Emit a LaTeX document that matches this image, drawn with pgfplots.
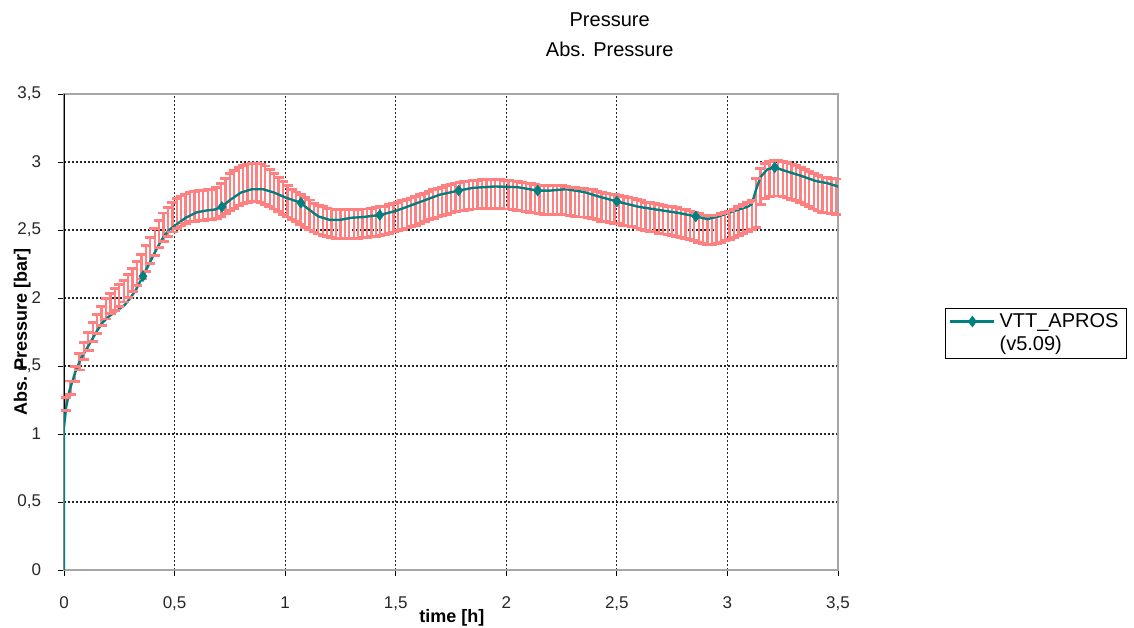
\documentclass[border=0pt]{standalone}
\usepackage{fontspec}
\setmainfont{Liberation Sans}
\usepackage{pgfplots}
\usepackage{pgfplotstable}
\pgfplotsset{compat=1.18}
\definecolor{tealc}{RGB}{0,128,128}
\definecolor{pinkc}{RGB}{255,128,128}

\pgfplotstableread{
x y e
0.01 1.22 0.05
0.03 1.34 0.05
0.05 1.44 0.055
0.07 1.53 0.06
0.09 1.61 0.065
0.11 1.68 0.065
0.13 1.75 0.07
0.15 1.81 0.07
0.17 1.87 0.07
0.19 1.92 0.075
0.21 1.96 0.075
0.23 1.99 0.08
0.25 2.02 0.08
0.27 2.05 0.08
0.29 2.09 0.085
0.31 2.13 0.085
0.33 2.18 0.09
0.35 2.23 0.09
0.37 2.29 0.095
0.39 2.35 0.095
0.41 2.41 0.10
0.43 2.47 0.10
0.45 2.52 0.105
0.47 2.56 0.105
0.49 2.595 0.11
0.51 2.62 0.11
0.53 2.64 0.11
0.55 2.655 0.11
0.57 2.67 0.11
0.59 2.675 0.11
0.61 2.68 0.11
0.63 2.68 0.11
0.65 2.685 0.11
0.67 2.69 0.11
0.69 2.70 0.115
0.71 2.72 0.12
0.73 2.75 0.13
0.75 2.78 0.135
0.77 2.80 0.14
0.79 2.82 0.14
0.81 2.835 0.14
0.83 2.845 0.14
0.85 2.85 0.14
0.87 2.85 0.14
0.89 2.845 0.14
0.91 2.83 0.14
0.93 2.81 0.135
0.95 2.785 0.13
0.97 2.76 0.125
0.99 2.735 0.12
1.01 2.71 0.115
1.03 2.69 0.11
1.05 2.67 0.11
1.07 2.65 0.11
1.09 2.63 0.11
1.11 2.61 0.11
1.13 2.59 0.105
1.15 2.575 0.105
1.17 2.565 0.105
1.19 2.555 0.105
1.21 2.55 0.105
1.23 2.545 0.105
1.25 2.545 0.105
1.27 2.545 0.105
1.29 2.545 0.105
1.31 2.545 0.105
1.33 2.545 0.105
1.35 2.55 0.105
1.37 2.55 0.105
1.39 2.555 0.105
1.41 2.56 0.105
1.43 2.565 0.105
1.45 2.57 0.105
1.47 2.58 0.105
1.49 2.59 0.105
1.51 2.60 0.105
1.53 2.61 0.105
1.55 2.62 0.105
1.57 2.63 0.105
1.59 2.64 0.105
1.61 2.655 0.105
1.63 2.665 0.105
1.65 2.68 0.105
1.67 2.69 0.105
1.69 2.70 0.105
1.71 2.71 0.105
1.73 2.72 0.105
1.75 2.73 0.105
1.77 2.74 0.105
1.79 2.745 0.105
1.81 2.75 0.105
1.83 2.755 0.105
1.85 2.76 0.105
1.87 2.76 0.105
1.89 2.765 0.105
1.91 2.765 0.105
1.93 2.765 0.105
1.95 2.765 0.105
1.97 2.765 0.105
1.99 2.76 0.105
2.01 2.76 0.105
2.03 2.755 0.105
2.05 2.75 0.105
2.07 2.745 0.105
2.09 2.74 0.105
2.11 2.735 0.105
2.13 2.73 0.105
2.15 2.725 0.105
2.17 2.72 0.105
2.19 2.72 0.105
2.21 2.72 0.105
2.23 2.72 0.105
2.25 2.72 0.105
2.27 2.715 0.105
2.29 2.71 0.105
2.31 2.705 0.105
2.33 2.70 0.105
2.35 2.70 0.105
2.37 2.695 0.105
2.39 2.69 0.105
2.41 2.68 0.105
2.43 2.67 0.105
2.45 2.665 0.105
2.47 2.66 0.105
2.49 2.655 0.105
2.51 2.65 0.105
2.53 2.64 0.105
2.55 2.635 0.105
2.57 2.63 0.105
2.59 2.62 0.105
2.61 2.61 0.105
2.63 2.60 0.105
2.65 2.595 0.105
2.67 2.59 0.105
2.69 2.58 0.105
2.71 2.575 0.105
2.73 2.57 0.105
2.75 2.565 0.105
2.77 2.56 0.105
2.79 2.55 0.105
2.81 2.545 0.105
2.83 2.535 0.105
2.85 2.525 0.105
2.87 2.515 0.105
2.89 2.505 0.105
2.91 2.50 0.105
2.93 2.50 0.105
2.95 2.505 0.105
2.97 2.515 0.105
2.99 2.525 0.105
3.01 2.535 0.105
3.03 2.55 0.105
3.05 2.565 0.105
3.07 2.58 0.105
3.09 2.595 0.105
3.11 2.61 0.105
3.13 2.70 0.18
3.15 2.82 0.13
3.17 2.86 0.13
3.19 2.875 0.13
3.21 2.88 0.13
3.23 2.88 0.13
3.25 2.875 0.13
3.27 2.865 0.13
3.29 2.855 0.13
3.31 2.845 0.13
3.33 2.83 0.13
3.35 2.815 0.13
3.37 2.80 0.13
3.39 2.785 0.13
3.41 2.77 0.13
3.43 2.76 0.13
3.45 2.755 0.13
3.47 2.75 0.13
3.49 2.745 0.13
}\expdata

\pgfplotstableread{
x y
0 0
0 1.05
0.01 1.2
0.025 1.32
0.05 1.45
0.075 1.55
0.1 1.62
0.125 1.69
0.15 1.76
0.175 1.82
0.2 1.86
0.225 1.89
0.25 1.92
0.275 1.95
0.3 2.0
0.325 2.06
0.357 2.16
0.4 2.30
0.425 2.38
0.45 2.45
0.475 2.50
0.5 2.53
0.55 2.59
0.6 2.63
0.65 2.645
0.68 2.65
0.714 2.67
0.75 2.72
0.8 2.775
0.85 2.80
0.9 2.80
0.95 2.775
1.0 2.74
1.071 2.70
1.1 2.66
1.15 2.60
1.2 2.575
1.25 2.575
1.3 2.59
1.35 2.595
1.428 2.61
1.5 2.64
1.6 2.70
1.7 2.76
1.785 2.79
1.85 2.81
1.95 2.82
2.05 2.815
2.142 2.79
2.2 2.79
2.27 2.80
2.35 2.78
2.42 2.745
2.5 2.71
2.6 2.67
2.7 2.645
2.78 2.625
2.857 2.60
2.91 2.58
2.96 2.60
3.03 2.64
3.09 2.67
3.11 2.69
3.13 2.80
3.15 2.89
3.18 2.945
3.214 2.96
3.27 2.93
3.33 2.90
3.40 2.86
3.45 2.845
3.5 2.82
}\aprosline

\pgfplotstableread{
x y
0.357 2.16
0.714 2.67
1.071 2.70
1.428 2.61
1.785 2.79
2.142 2.79
2.5 2.71
2.857 2.60
3.214 2.96
}\aprosmarks

\begin{document}
\begin{tikzpicture}
\begin{axis}[
  at={(0,0)}, anchor=south west,
  scale only axis, width=387bp, height=238bp,
  xmin=0, xmax=3.5, ymin=0, ymax=3.5,
  xtick={0,0.5,1,1.5,2,2.5,3,3.5},
  ytick={0,0.5,1,1.5,2,2.5,3,3.5},
  tick pos=left,
  /pgf/number format/use comma,
  /pgf/number format/assume math mode=true,
  tick label style={font=\fontsize{8.5bp}{10bp}\selectfont, black!85},
  xticklabel shift=7bp,
  yticklabel shift=5bp,
  tick align=outside,
  major tick length=3bp,
  tick style={black, line width=0.4bp},
  grid=major,
  major grid style={black!85, line width=0.6bp, dash pattern=on 1bp off 1bp},
  axis line style={gray!70, line width=0.6bp},
  every axis x label/.style={at={(axis description cs:0.501,-0.101)}, anchor=center},
  every axis y label/.style={at={(axis description cs:-0.054,0.5)}, rotate=90, anchor=center},
  xlabel={\fontsize{9bp}{11bp}\selectfont\bfseries time [h]},
  ylabel={\fontsize{9bp}{11bp}\selectfont\bfseries Abs. Pressure [bar]},
  title={Pressure\\Abs. Pressure},
  title style={at={(axis description cs:0.705,1.099)}, anchor=center, align=center,
    font=\fontsize{10bp}{15bp}\selectfont},
  legend style={at={(1.138,0.55)}, anchor=north west, draw=black, line width=0.4bp,
    font=\fontsize{10bp}{11.5bp}\selectfont, inner xsep=2bp, inner ysep=0.5bp,
    cells={align=left}},
  legend cell align=left,
  legend image code/.code={\draw[mark repeat=2,mark phase=2,#1] plot coordinates {(0bp,6bp)(11bp,6bp)(22bp,6bp)};},
]
\draw[black, line width=1.5bp] (rel axis cs:0,0) -- (rel axis cs:0,1);
% experimental data: vertical error bars
\addplot[pinkc, only marks, mark=text, text mark={}, forget plot,
  error bars/.cd, y dir=both, y explicit, error mark=none,
  error bar style={pinkc, line width=1.15bp}]
  table[x=x, y=y, y error=e] {\expdata};
% caps of the error bars
\addplot[pinkc, only marks, mark=-, mark size=2.6bp, mark options={line width=1.4bp}, forget plot]
  table[x=x, y expr=\thisrow{y}+\thisrow{e}] {\expdata};
\addplot[pinkc, only marks, mark=-, mark size=2.6bp, mark options={line width=1.4bp}, forget plot]
  table[x=x, y expr=\thisrow{y}-\thisrow{e}] {\expdata};
\addplot[tealc, line width=1.2bp, forget plot] table[x=x,y=y] {\aprosline};
\addplot[tealc, only marks, mark=diamond*, mark size=2.6bp, forget plot] table[x=x,y=y] {\aprosmarks};
\addlegendimage{tealc, line width=1.2bp, mark=diamond*, mark size=2.6bp, mark options={line width=0.4bp}}
\addlegendentry{VTT\_APROS\\(v5.09)}
\end{axis}
\pgfresetboundingbox
\path[use as bounding box] (-32bp,-29bp) rectangle (535bp,285bp);
\end{tikzpicture}
\end{document}
